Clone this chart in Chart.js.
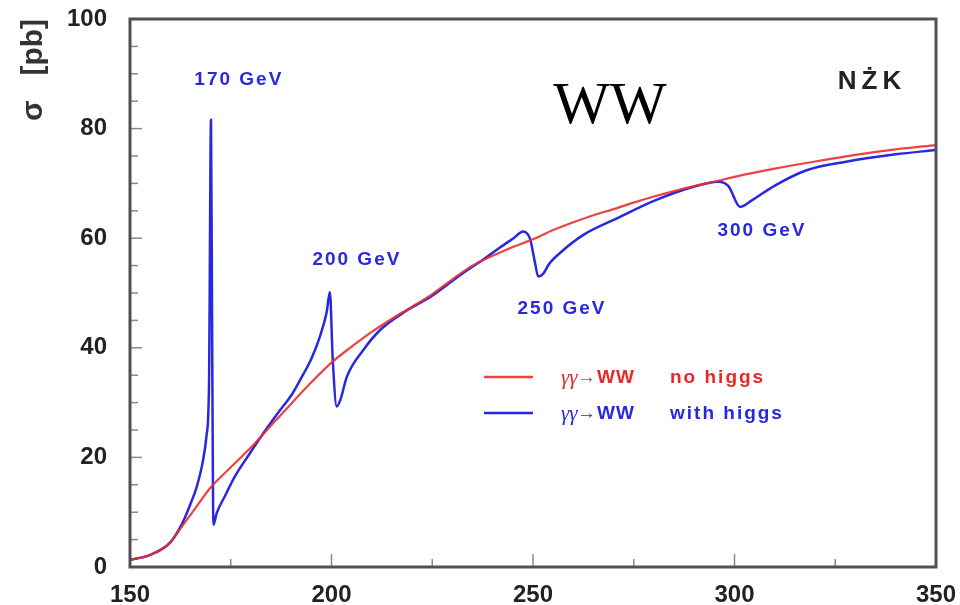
<!DOCTYPE html>
<html lang="en">
<head>
  <meta charset="UTF-8">
  <title>WW cross section</title>
  <script src="https://cdn.jsdelivr.net/npm/chart.js"></script>
  <style>
    body { margin: 0; background: #fff; }
  </style>
</head>
<body>
  <canvas id="myChart" width="960" height="605"></canvas>

<script>
  // gamma gamma -> WW, no higgs (red)
  const redEnergy = [150, 155, 160, 163, 166, 170, 175, 180, 185, 190, 195, 200, 205, 210, 215, 220, 225, 230, 235, 240, 245, 250, 255, 260, 265, 270, 275, 280, 285, 290, 295, 300, 310, 320, 330, 340, 350]
  const redSigma = [1.3, 2.2, 4.5, 7.5, 10.5, 14.5, 18.2, 21.8, 25.8, 29.8, 33.7, 37.3, 40.2, 42.9, 45.3, 47.5, 49.8, 52.5, 55, 56.8, 58.4, 59.8, 61.5, 62.9, 64.2, 65.3, 66.5, 67.6, 68.6, 69.5, 70.3, 71.2, 72.7, 74, 75.2, 76.2, 77]

  // gamma gamma -> WW, with higgs (blue)
  const blueEnergy = [150, 155, 160, 163, 165, 166.5, 168, 169, 169.6, 170.1, 170.4, 170.7, 171.5, 173.6, 176, 179.8, 183, 187.2, 190, 192.2, 195, 197.1, 198.8, 199.6, 200.3, 201.3, 202.2, 203.8, 207.9, 212, 218, 225, 232, 238, 241.8, 245, 247.6, 249.3, 250.5, 251.3, 252.5, 254, 256.7, 262.5, 270.8, 280, 289, 296, 298.5, 301.4, 304.5, 310, 317.9, 328, 340, 350]
  const blueSigma = [1.3, 2.2, 4.5, 8, 11.5, 14.5, 19, 24, 33, 81.6, 40, 7.7, 9.8, 13, 16.5, 20.8, 24.3, 28.6, 31.3, 34.1, 38, 42, 46.5, 50.2, 38, 29.3, 30.5, 34.7, 39.6, 43.2, 46.5, 49.5, 53.3, 56.3, 58.3, 59.9, 61.2, 59.8, 55.5, 53, 53.5, 55.3, 57.3, 60.6, 63.6, 66.8, 69.2, 70.3, 69.5, 65.7, 67, 69.6, 72.4, 74, 75.3, 76.1]

  const xTickValues = [150, 200, 250, 300, 350]
  const yTickValues = [0, 20, 40, 60, 80, 100]
  const peakLabels = ['170 GeV', '200 GeV', '250 GeV', '300 GeV']
  const legendLabels = ['no higgs', 'with higgs']

  const AZUL = 'rgb(40, 40, 225)'
  const VERMELHO = 'rgba(235, 45, 45, 0.9)'
  const FONTE = '"Liberation Sans", Arial, sans-serif'

  function pontos(xs, ys) {
    var out = []
    for (var i = 0; i < xs.length; i++) {
      out[i] = { x: xs[i], y: ys[i] }
    }
    return out
  }

  const moldura = {
    id: 'moldura',
    afterDraw(chart) {
      const ctx = chart.ctx
      const a = chart.chartArea
      const sx = chart.scales.x
      const sy = chart.scales.y

      ctx.save()
      // ticks pointing inward
      ctx.strokeStyle = '#8a8a8a'
      ctx.lineWidth = 1.5
      for (var v = 150; v <= 350; v += 25) {
        const px = sx.getPixelForValue(v)
        const len = (v % 50 === 0) ? 13 : 8
        ctx.beginPath()
        ctx.moveTo(px, a.bottom)
        ctx.lineTo(px, a.bottom - len)
        ctx.stroke()
      }
      for (var w = 0; w <= 100; w += 5) {
        const py = sy.getPixelForValue(w)
        const len = (w % 20 === 0) ? 12 : 8
        ctx.beginPath()
        ctx.moveTo(a.left, py)
        ctx.lineTo(a.left + len, py)
        ctx.stroke()
      }

      // frame
      ctx.strokeStyle = '#505050'
      ctx.lineWidth = 3
      ctx.strokeRect(a.left, a.top, a.right - a.left, a.bottom - a.top)

      // axis title
      ctx.fillStyle = '#333'
      ctx.font = 'bold 30px ' + FONTE
      ctx.textAlign = 'center'
      ctx.textBaseline = 'middle'
      ctx.translate(34, 70)
      ctx.rotate(-Math.PI / 2)
      ctx.fillText('\u03c3   [pb]', 0, 0)
      ctx.restore()

      ctx.save()
      // resonance labels
      const onde = [[177, 88.9], [206.3, 56], [257.2, 47.1], [306.8, 61.3]]
      ctx.fillStyle = AZUL
      ctx.font = 'bold 19px ' + FONTE
      ctx.letterSpacing = '2px'
      ctx.textAlign = 'center'
      ctx.textBaseline = 'middle'
      for (var i = 0; i < peakLabels.length; i++) {
        ctx.fillText(peakLabels[i], sx.getPixelForValue(onde[i][0]), sy.getPixelForValue(onde[i][1]))
      }

      // WW and NZK
      ctx.letterSpacing = '0px'
      ctx.fillStyle = '#000'
      ctx.font = '60px "Liberation Serif", "Times New Roman", serif'
      ctx.fillText('WW', 610, 107)
      ctx.fillStyle = '#222'
      ctx.font = 'bold 26px ' + FONTE
      ctx.letterSpacing = '5px'
      ctx.fillText('N\u017bK', 872, 82)

      // legend
      const linhas = [[377, VERMELHO, 'rgb(232, 40, 40)'], [413, AZUL, AZUL]]
      ctx.textAlign = 'left'
      for (var j = 0; j < 2; j++) {
        const y = linhas[j][0]
        ctx.strokeStyle = linhas[j][1]
        ctx.lineWidth = 2.5
        ctx.beginPath()
        ctx.moveTo(484, y)
        ctx.lineTo(533, y)
        ctx.stroke()
        ctx.fillStyle = linhas[j][2]
        ctx.letterSpacing = '0px'
        ctx.font = 'italic 21px "Liberation Serif", serif'
        ctx.fillText('\u03b3\u03b3', 561, y + 1)
        ctx.font = 'bold 19px ' + FONTE
        ctx.fillText('\u2192', 577, y + 1)
        ctx.letterSpacing = '1px'
        ctx.fillText('WW', 597, y + 1)
        ctx.letterSpacing = '2px'
        ctx.fillText(legendLabels[j], 670, y + 1)
      }
      ctx.restore()
    }
  }

  const config = {
    type: 'line',
    data: {
      datasets: [{
        label: 'no higgs',
        data: pontos(redEnergy, redSigma),
        borderColor: VERMELHO,
        borderWidth: 2.2,
        pointRadius: 0,
        cubicInterpolationMode: 'monotone',
        fill: false
      }, {
        label: 'with higgs',
        data: pontos(blueEnergy, blueSigma),
        borderColor: AZUL,
        borderWidth: 2.5,
        pointRadius: 0,
        cubicInterpolationMode: 'monotone',
        fill: false
      }]
    },
    options: {
      responsive: false,
      animation: false,
      layout: { padding: { top: 19, right: 24, left: 0, bottom: 0 } },
      plugins: {
        legend: { display: false },
        tooltip: { enabled: false }
      },
      scales: {
        x: {
          type: 'linear',
          min: 150,
          max: 350,
          afterFit: function (scale) {
            scale.height = 38
            scale.paddingLeft = 0
            scale.paddingRight = 0
          },
          afterBuildTicks: function (scale) { scale.ticks = xTickValues.map(v => ({ value: v })) },
          grid: { display: false },
          border: { display: false },
          ticks: {
            padding: 6,
            color: '#222',
            maxRotation: 0,
            font: { family: FONTE, weight: 'bold', size: 24 }
          }
        },
        y: {
          min: 0,
          max: 100,
          afterFit: function (scale) {
            scale.width = 130
            scale.paddingTop = 0
            scale.paddingBottom = 0
          },
          afterBuildTicks: function (scale) { scale.ticks = yTickValues.map(v => ({ value: v })) },
          grid: { display: false },
          border: { display: false },
          ticks: {
            padding: 15,
            color: '#222',
            font: { family: FONTE, weight: 'bold', size: 24 }
          }
        }
      }
    },
    plugins: [moldura]
  }

  let myChart = new Chart(document.getElementById('myChart'), config)
</script>
</body>
</html>
